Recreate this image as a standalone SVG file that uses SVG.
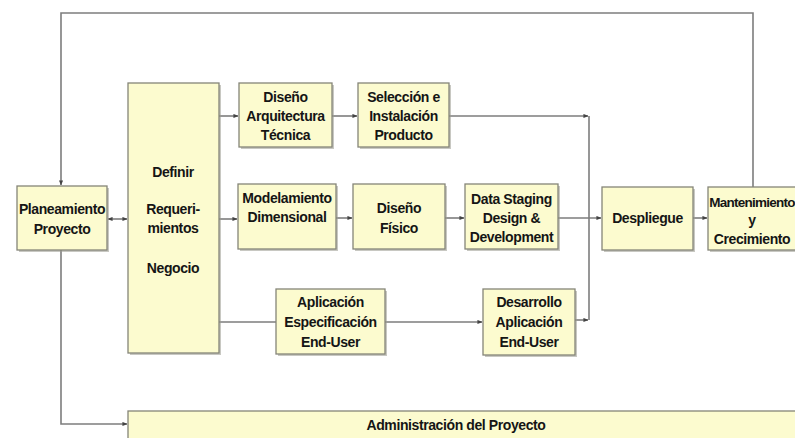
<svg xmlns="http://www.w3.org/2000/svg" width="795" height="438" viewBox="0 0 795 438">
<style>
.box{fill:#fcfbcf;stroke:#858578;stroke-width:1.3}
.sh{fill:#9a9a90;opacity:.55}
.t{font-family:"Liberation Sans",Arial,sans-serif;font-size:14px;font-weight:bold;fill:#151515;text-anchor:middle;letter-spacing:-0.4px}
.c{fill:none;stroke:#7d7d7d;stroke-width:1.6}
</style>
<defs>
<marker id="a" viewBox="0 0 6 6" refX="5.5" refY="3" markerWidth="5" markerHeight="5" orient="auto-start-reverse" markerUnits="userSpaceOnUse"><path d="M0,0.5 L6,3 L0,5.5 Z" fill="#444"/></marker>
</defs>
<rect width="795" height="438" fill="#ffffff"/>
<g id="connectors">
<path class="c" d="M753,187 V13 H61 V185" marker-end="url(#a)"/>
<path class="c" d="M61,250 V424 H127" marker-end="url(#a)"/>
<path class="c" d="M108,219 H127" marker-start="url(#a)" marker-end="url(#a)"/>
<path class="c" d="M219,116 H238" marker-end="url(#a)"/>
<path class="c" d="M332,116 H357" marker-end="url(#a)"/>
<path class="c" d="M449,116 H588" marker-end="url(#a)"/>
<path class="c" d="M589,116 V320"/>
<path class="c" d="M575,320 H588" marker-end="url(#a)"/>
<path class="c" d="M219,219 H237" marker-end="url(#a)"/>
<path class="c" d="M336,218 H352" marker-end="url(#a)"/>
<path class="c" d="M445,218 H464" marker-end="url(#a)"/>
<path class="c" d="M558,218 H601" marker-end="url(#a)"/>
<path class="c" d="M693,218 H707" marker-end="url(#a)"/>
<path class="c" d="M219,322 H276"/>
<path class="c" d="M385,322 H482" marker-end="url(#a)"/>
</g>
<g id="planeamiento">
<rect class="sh" x="19" y="188" width="90" height="64"/>
<rect class="box" x="17" y="186" width="90" height="64"/>
<text class="t" x="62" y="214">Planeamiento</text>
<text class="t" x="62" y="234">Proyecto</text>
</g>
<g id="definir">
<rect class="sh" x="130" y="85" width="91" height="270"/>
<rect class="box" x="128" y="83" width="91" height="270"/>
<text class="t" x="173" y="177">Definir</text>
<text class="t" x="173" y="214">Requeri-</text>
<text class="t" x="173" y="233">mientos</text>
<text class="t" x="173" y="273">Negocio</text>
</g>
<g id="diseno-arquitectura">
<rect class="sh" x="241" y="85" width="93" height="64"/>
<rect class="box" x="239" y="83" width="93" height="64"/>
<text class="t" x="285.500" y="102">Diseño</text>
<text class="t" x="285.500" y="121">Arquitectura</text>
<text class="t" x="285.500" y="140">Técnica</text>
</g>
<g id="seleccion">
<rect class="sh" x="360" y="85" width="91" height="64"/>
<rect class="box" x="358" y="83" width="91" height="64"/>
<text class="t" x="403.500" y="102">Selección e</text>
<text class="t" x="403.500" y="121">Instalación</text>
<text class="t" x="403.500" y="140">Producto</text>
</g>
<g id="modelamiento">
<rect class="sh" x="240" y="186" width="98" height="65"/>
<rect class="box" x="238" y="184" width="98" height="65"/>
<text class="t" x="287" y="203">Modelamiento</text>
<text class="t" x="287" y="222">Dimensional</text>
</g>
<g id="diseno-fisico">
<rect class="sh" x="355" y="186" width="92" height="65"/>
<rect class="box" x="353" y="184" width="92" height="65"/>
<text class="t" x="399" y="213">Diseño</text>
<text class="t" x="399" y="233">Físico</text>
</g>
<g id="data-staging">
<rect class="sh" x="467" y="186" width="93" height="65"/>
<rect class="box" x="465" y="184" width="93" height="65"/>
<text class="t" x="511.500" y="204">Data Staging</text>
<text class="t" x="511.500" y="223">Design &amp;</text>
<text class="t" x="511.500" y="242">Development</text>
</g>
<g id="despliegue">
<rect class="sh" x="604" y="189" width="91" height="63"/>
<rect class="box" x="602" y="187" width="91" height="63"/>
<text class="t" x="647.500" y="223">Despliegue</text>
</g>
<g id="mantenimiento">
<rect class="sh" x="710" y="189" width="95" height="63"/>
<rect class="box" x="708" y="187" width="95" height="63"/>
<text class="t" x="752" y="207" style="font-size:13.5px;letter-spacing:-0.75px">Mantenimiento</text>
<text class="t" x="752" y="225">y</text>
<text class="t" x="752" y="244">Crecimiento</text>
</g>
<g id="aplicacion-especificacion">
<rect class="sh" x="278" y="291" width="109" height="65"/>
<rect class="box" x="276" y="289" width="109" height="65"/>
<text class="t" x="330.500" y="307">Aplicación</text>
<text class="t" x="330.500" y="327">Especificación</text>
<text class="t" x="330.500" y="347">End-User</text>
</g>
<g id="desarrollo">
<rect class="sh" x="485" y="291" width="92" height="66"/>
<rect class="box" x="483" y="289" width="92" height="66"/>
<text class="t" x="529" y="307">Desarrollo</text>
<text class="t" x="529" y="327">Aplicación</text>
<text class="t" x="529" y="347">End-User</text>
</g>
<g id="administracion">
<rect class="sh" x="130" y="413" width="670" height="30"/>
<rect class="box" x="128" y="411" width="670" height="30"/>
<text class="t" x="456" y="430">Administración del Proyecto</text>
</g>
</svg>
